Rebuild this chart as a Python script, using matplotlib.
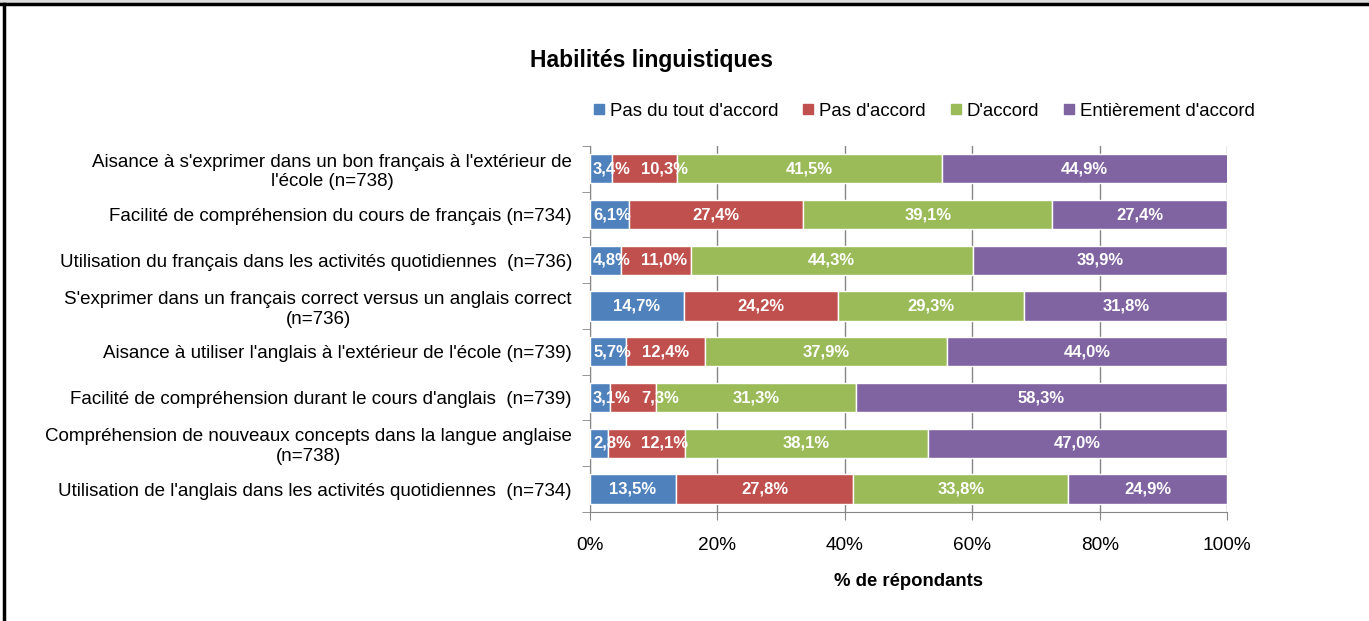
# Habilités linguistiques - stacked horizontal bars
import numpy as np
import matplotlib.pyplot as plt
from matplotlib.lines import Line2D

plt.rcParams['font.family'] = ['Liberation Sans', 'DejaVu Sans']

categories = [
    "Aisance à s'exprimer dans un bon français à l'extérieur de\nl'école (n=738)",
    "Facilité de compréhension du cours de français (n=734)",
    "Utilisation du français dans les activités quotidiennes  (n=736)",
    "S'exprimer dans un français correct versus un anglais correct\n(n=736)",
    "Aisance à utiliser l'anglais à l'extérieur de l'école (n=739)",
    "Facilité de compréhension durant le cours d'anglais  (n=739)",
    "Compréhension de nouveaux concepts dans la langue anglaise\n(n=738)",
    "Utilisation de l'anglais dans les activités quotidiennes  (n=734)",
]
series_names = ["Pas du tout d'accord", "Pas d'accord", "D'accord", "Entièrement d'accord"]
pas_du_tout = [3.4, 6.1, 4.8, 14.7, 5.7, 3.1, 2.8, 13.5]
pas_accord = [10.3, 27.4, 11.0, 24.2, 12.4, 7.3, 12.1, 27.8]
accord = [41.5, 39.1, 44.3, 29.3, 37.9, 31.3, 38.1, 33.8]
entierement = [44.9, 27.4, 39.9, 31.8, 44.0, 58.3, 47.0, 24.9]
colors = ['#4F81BD', '#C0504D', '#9BBB59', '#8064A2']

fig = plt.figure(figsize=(13.69, 6.21), dpi=100)
ax = fig.add_axes([0.431, 0.1755, 0.4653, 0.5895])

y = np.arange(len(categories))
left = np.zeros(len(categories))
row_texts = [[] for _ in categories]
for vals, name, col in zip([pas_du_tout, pas_accord, accord, entierement], series_names, colors):
    vals = np.array(vals)
    ax.barh(y, vals, left=left, height=0.64, color=col, edgecolor='white', linewidth=1, label=name, zorder=3)
    for yi, l, v in zip(y, left, vals):
        t = ax.text(l + v / 2, yi, f"{v:.1f}%".replace('.', ','), ha='center', va='center',
                    color='white', fontsize=12, fontweight='bold', zorder=4)
        row_texts[yi].append(t)
    left = left + vals

ax.set_xlim(0, 100)
ax.set_ylim(len(categories) - 0.5, -0.5)
ax.set_xticks(np.arange(0, 101, 20))
ax.set_xticklabels([f"{v}%" for v in range(0, 101, 20)], fontsize=13.7)
ax.tick_params(axis='x', length=6, color='#868686', pad=12)
ax.set_yticks(y)
ax.set_yticklabels(categories, fontsize=13.5, multialignment='center')
ax.tick_params(axis='y', length=0, pad=13)
ax.set_yticks(np.arange(-0.5, len(categories), 1), minor=True)
ax.tick_params(axis='y', which='minor', length=6, color='#868686')
ax.xaxis.grid(True, color='#868686', linewidth=1, zorder=0)
ax.set_axisbelow(True)
for s in ['top', 'right']:
    ax.spines[s].set_visible(False)
for s in ['left', 'bottom']:
    ax.spines[s].set_color('#868686')

ax.set_xlabel('% de répondants', fontsize=13.3, fontweight='bold', labelpad=14)
fig.text(0.476, 0.903, 'Habilités linguistiques', ha='center', va='center', fontsize=16.5, fontweight='bold')

handles = [Line2D([], [], marker='s', linestyle='', markersize=7, color=c) for c in colors]
fig.legend(handles, series_names, loc='center left', bbox_to_anchor=(0.421, 0.821), ncol=4,
           frameon=False, fontsize=13.4, handlelength=0.6, handletextpad=0.3, columnspacing=1.3)

# labels of thin segments are kept inside the plot and pushed apart, as in the original
fig.canvas.draw()
renderer = fig.canvas.get_renderer()
x0_px = ax.transData.transform((0, 0))[0]
px_per_unit = ax.transData.transform((100, 0))[0] / 100 - x0_px / 100
for texts in row_texts:
    min_left = x0_px + 3
    for t in texts:
        bb = t.get_window_extent(renderer)
        shift = max(0, min_left - bb.x0)
        if shift > 0:
            t.set_x(t.get_position()[0] + shift / px_per_unit)
        min_left = bb.x1 + shift + 10

# frame lines seen around the reference
fig.add_artist(Line2D([0, 1], [0.993, 0.993], color='black', linewidth=2.5, transform=fig.transFigure))
fig.add_artist(Line2D([0.003, 0.003], [0, 0.993], color='black', linewidth=2.5, transform=fig.transFigure))
fig.patches.append(plt.Rectangle((0, 0.995), 1, 0.005, transform=fig.transFigure, color='#DDDDDD'))

fig.savefig('out.png', dpi=100)
